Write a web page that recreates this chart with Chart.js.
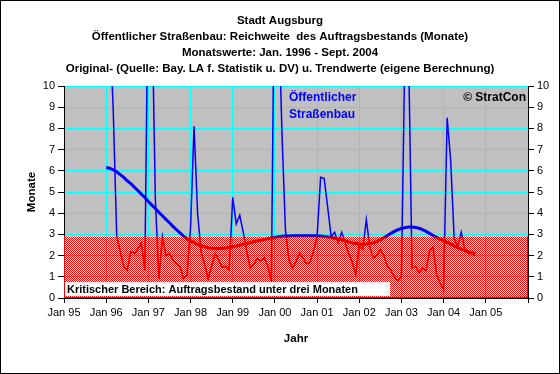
<!DOCTYPE html>
<html>
<head>
<meta charset="utf-8">
<script src="https://cdn.jsdelivr.net/npm/chart.js@4"></script>
<style>
  body { margin: 0; background: #fff; }
  canvas { display: block; }
</style>
</head>
<body>
<canvas id="chart" width="560" height="374"></canvas>
<script>
// titles
const titleLines = [
    'Stadt Augsburg',
    'Öffentlicher Straßenbau: Reichweite  des Auftragsbestands (Monate)',
    'Monatswerte: Jan. 1996 - Sept. 2004',
    'Original- (Quelle: Bay. LA f. Statistik u. DV) u. Trendwerte (eigene Berechnung)'
]
const yearLabels = ['Jan 95', 'Jan 96', 'Jan 97', 'Jan 98', 'Jan 99', 'Jan 00', 'Jan 01', 'Jan 02', 'Jan 03', 'Jan 04', 'Jan 05']
const seriesLabel = ['Öffentlicher', 'Straßenbau']
const copyright = '© StratCon'
const criticalText = 'Kritischer Bereich: Auftragsbestand unter drei Monaten'

// months counted from Jan 95, first value is Jan 96
const startMonth = 12
const axisMonths = 132
const criticalLimit = 2.9

// monthly original values (Monate)
const originalValues = [
    15, 13, 8.9, 2.9, 2.2, 1.5, 1.3, 2.2, 2.1, 2.3, 2.6, 1.3,
    16, 14, 4.6, 0.9, 2.9, 2.0, 2.1, 1.8, 1.6, 1.5, 0.9, 1.1,
    3.3, 8.1, 4.0, 2.2, 1.6, 0.9, 1.5, 2.1, 1.8, 1.45, 1.5, 1.35,
    4.75, 3.5, 3.9, 3.1, 2.2, 1.4, 1.6, 1.85, 1.75, 1.9, 1.5, 0.8,
    18, 14, 7.8, 3.2, 1.8, 1.4, 1.7, 2.1, 1.9, 1.6, 1.7, 2.2,
    2.9, 5.7, 5.65, 4.3, 2.9, 3.1, 2.6, 3.1, 2.6, 2.1, 1.7, 1.1,
    2.5, 2.3, 3.7, 2.4, 1.9, 2.0, 2.3, 2.0, 1.5, 1.3, 1.0, 0.8,
    1.0, 12, 12, 1.4, 1.5, 1.2, 1.4, 1.3, 2.2, 2.4, 1.1, 0.7,
    0.4, 8.5, 6.5, 2.8, 2.4, 3.1, 2.3, 2.1, 2.1, 2.0
]

// monthly trend values
const trendValues = [
    6.16, 6.12, 6.05, 5.95, 5.82, 5.69, 5.53, 5.40, 5.23, 5.07, 4.90, 4.74,
    4.55, 4.38, 4.22, 4.04, 3.88, 3.71, 3.55, 3.38, 3.22, 3.07, 2.92, 2.80,
    2.70, 2.61, 2.53, 2.46, 2.41, 2.37, 2.35, 2.34, 2.34, 2.35, 2.36, 2.38,
    2.42, 2.45, 2.49, 2.53, 2.57, 2.61, 2.65, 2.69, 2.73, 2.76, 2.80, 2.83,
    2.86, 2.89, 2.91, 2.92, 2.93, 2.94, 2.94, 2.94, 2.94, 2.94, 2.94, 2.94,
    2.93, 2.92, 2.90, 2.88, 2.85, 2.82, 2.78, 2.74, 2.69, 2.64, 2.60, 2.57,
    2.55, 2.54, 2.55, 2.57, 2.60, 2.66, 2.74, 2.84, 2.95, 3.05, 3.14, 3.22,
    3.28, 3.32, 3.35, 3.35, 3.33, 3.29, 3.22, 3.14, 3.05, 2.95, 2.86, 2.78,
    2.70, 2.62, 2.54, 2.46, 2.38, 2.30, 2.24, 2.18, 2.13, 2.10
]

const family = "'Liberation Sans', Arial, sans-serif"
Chart.defaults.font.family = family
Chart.defaults.font.size = 11
Chart.defaults.color = '#000'

const toPoints = values => values.map((v, i) => ({ x: startMonth + i, y: v }))

// red checkerboard like the excel fill
const makeHatch = () => {
    const c = document.createElement('canvas')
    c.width = 2
    c.height = 2
    const cx = c.getContext('2d')
    cx.fillStyle = '#FF0000'
    cx.fillRect(0, 0, 1, 1)
    cx.fillRect(1, 1, 1, 1)
    return cx.createPattern(c, 'repeat')
}

const plotBackground = {
    id: 'plotBackground',
    beforeDraw(chart) {
        const { ctx, chartArea: a, scales: { y } } = chart
        const limitY = y.getPixelForValue(criticalLimit)
        ctx.save()
        ctx.fillStyle = '#C0C0C0'
        ctx.fillRect(a.left, a.top, a.width, limitY - a.top)
        ctx.fillStyle = '#FFFFFF'
        ctx.fillRect(a.left, limitY, a.width, a.bottom - limitY)
        ctx.restore()
    }
}

const notes = {
    id: 'notes',
    afterDatasetsDraw(chart) {
        const { ctx, chartArea: a, scales: { x, y } } = chart
        const limitY = y.getPixelForValue(criticalLimit)
        ctx.save()
        // red frame of the critical band
        ctx.strokeStyle = '#FF0000'
        ctx.lineWidth = 1
        ctx.beginPath()
        ctx.moveTo(a.left + 0.5, limitY)
        ctx.lineTo(a.left + 0.5, a.bottom - 0.5)
        ctx.lineTo(a.right - 0.5, a.bottom - 0.5)
        ctx.lineTo(a.right - 0.5, limitY)
        ctx.stroke()

        // white box with the band text
        ctx.font = 'bold 11px ' + family
        ctx.textBaseline = 'middle'
        const boxTop = y.getPixelForValue(0.75)
        ctx.fillStyle = '#FFFFFF'
        ctx.fillRect(a.left + 1, boxTop, 325, a.bottom - 2 - boxTop)
        ctx.fillStyle = '#000'
        ctx.textAlign = 'left'
        ctx.fillText(criticalText, a.left + 3, (boxTop + a.bottom - 2) / 2 + 1)

        // series name
        ctx.font = 'bold 12px ' + family
        ctx.fillStyle = '#0000FF'
        ctx.fillText(seriesLabel[0], x.getPixelForValue(64), y.getPixelForValue(9.43))
        ctx.fillText(seriesLabel[1], x.getPixelForValue(64), y.getPixelForValue(8.63))

        ctx.fillStyle = '#000'
        ctx.textAlign = 'right'
        ctx.fillText(copyright, a.right - 2, y.getPixelForValue(9.43))
        ctx.restore()
    },
    afterDraw(chart) {
        const { ctx } = chart
        ctx.save()
        ctx.strokeStyle = '#000'
        ctx.lineWidth = 1
        ctx.strokeRect(0.5, 0.5, chart.width - 1, chart.height - 1)
        ctx.restore()
    }
}

new Chart(document.getElementById('chart'), {
    type: 'line',
    data: {
        datasets: [
            {
                label: 'Kritischer Bereich',
                data: [{ x: 0, y: criticalLimit }, { x: axisMonths, y: criticalLimit }],
                fill: 'origin',
                backgroundColor: makeHatch(),
                borderWidth: 0,
                pointRadius: 0
            },
            {
                label: 'Trend',
                data: toPoints(trendValues),
                borderColor: '#0000FF',
                borderWidth: 3,
                pointRadius: 0,
                fill: false
            },
            {
                label: 'Original',
                data: toPoints(originalValues),
                borderColor: '#0000FF',
                borderWidth: 1.5,
                pointRadius: 0,
                fill: false
            }
        ]
    },
    options: {
        responsive: false,
        animation: false,
        events: [],
        layout: { padding: 0 },
        plugins: {
            legend: { display: false },
            tooltip: { enabled: false },
            title: {
                display: true,
                text: titleLines,
                color: '#000',
                font: { size: 11.5, weight: 'bold', lineHeight: '16px' },
                padding: { top: 13, bottom: 9 }
            }
        },
        scales: {
            x: {
                type: 'linear',
                min: 0,
                max: axisMonths,
                ticks: {
                    stepSize: 12,
                    autoSkip: false,
                    maxRotation: 0,
                    padding: 3,
                    callback: v => yearLabels[v / 12] ?? ''
                },
                grid: { color: '#00FFFF', tickColor: '#000', tickLength: 5 },
                border: { color: '#000' },
                title: {
                    display: true,
                    text: 'Jahr',
                    font: { size: 11.5, weight: 'bold' },
                    padding: { top: 0, bottom: 28 }
                },
                afterFit: s => { s.height = 76 }
            },
            y: {
                position: 'left',
                min: 0,
                max: 10,
                ticks: { stepSize: 1, padding: 3 },
                grid: { color: '#00FFFF', tickColor: '#000', tickLength: 6 },
                border: { color: '#000' },
                title: {
                    display: true,
                    text: 'Monate',
                    font: { size: 11.5, weight: 'bold' },
                    padding: { top: 25, bottom: 0 }
                },
                afterFit: s => { s.width = 64 }
            },
            y2: {
                position: 'right',
                min: 0,
                max: 10,
                ticks: { stepSize: 1, padding: 3 },
                grid: { drawOnChartArea: false, tickColor: '#000', tickLength: 6 },
                border: { color: '#000' },
                afterFit: s => { s.width = 32 }
            }
        }
    },
    plugins: [plotBackground, notes]
})
</script>
</body>
</html>
